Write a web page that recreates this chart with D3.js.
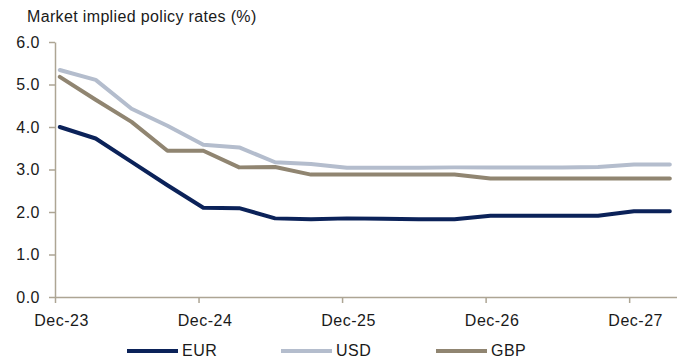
<!DOCTYPE html>
<html>
<head>
<meta charset="utf-8">
<script src="https://cdn.jsdelivr.net/npm/d3@7"></script>
<style>
  body { margin: 0; background: #fff; }
  text { font-family: "Liberation Sans", Arial, sans-serif; fill: #1a1a1a; }
</style>
</head>
<body>
<div class="chart"></div>
<script>
// data: quarterly points, x = months after Dec-23
const months = [0.4, 3.4, 6.4, 9.4, 12.4, 15.4, 18.4, 21.4, 24.4, 27.4, 30.4, 33.4, 36.4, 39.4, 42.4, 45.4, 48.4, 51.4];
const eur = [4.0, 3.73, 3.18, 2.63, 2.1, 2.09, 1.85, 1.83, 1.85, 1.84, 1.83, 1.83, 1.91, 1.91, 1.91, 1.91, 2.02, 2.02];
const usd = [5.34, 5.11, 4.43, 4.03, 3.58, 3.52, 3.17, 3.13, 3.04, 3.04, 3.04, 3.05, 3.05, 3.05, 3.05, 3.06, 3.12, 3.12];
const gbp = [5.18, 4.64, 4.12, 3.44, 3.44, 3.05, 3.06, 2.88, 2.88, 2.88, 2.88, 2.88, 2.79, 2.79, 2.79, 2.79, 2.79, 2.79];
const xTicks = [0, 12, 24, 36, 48];
const xLabels = ["Dec-23", "Dec-24", "Dec-25", "Dec-26", "Dec-27"];
const yTicks = [0, 1, 2, 3, 4, 5, 6];

const series = [
  { name: "EUR", values: eur, color: "#0b2259" },
  { name: "USD", values: usd, color: "#b4bdcd" },
  { name: "GBP", values: gbp, color: "#908571" }
];

const width = 677, height = 360;
const axisColor = "#ada594";

const svg = d3.select(".chart").append("svg")
  .attr("width", width)
  .attr("height", height);

// skalaer
const x = d3.scaleLinear().domain([0, 52]).range([55, 677]);
const y = d3.scaleLinear().domain([0, 6]).range([297, 42]);

// titel
svg.append("text")
  .attr("x", 27)
  .attr("y", 22)
  .style("font-size", "16px")
  .style("letter-spacing", "0.35px")
  .text("Market implied policy rates (%)");

// y-akse
const yAxis = svg.append("g")
  .attr("transform", "translate(55,0)")
  .call(d3.axisLeft(y).tickValues(yTicks).tickFormat(d3.format(".1f")).tickSizeInner(6).tickSizeOuter(0).tickPadding(9));

// x-akse
const xAxis = svg.append("g")
  .attr("transform", "translate(0,297)")
  .call(d3.axisBottom(x).tickValues(xTicks).tickFormat((d, i) => xLabels[i]).tickSizeInner(6).tickSizeOuter(0).tickPadding(12));

[yAxis, xAxis].forEach((g) => {
  g.select(".domain").attr("stroke", axisColor).attr("stroke-width", 1.5);
  g.selectAll(".tick line").attr("stroke", axisColor).attr("stroke-width", 1.5);
  g.selectAll("text")
    .style("font-size", "16px")
    .style("letter-spacing", "0.5px")
    .attr("fill", "#1a1a1a");
});
xAxis.selectAll("text").attr("dx", 6);

// linjer
const line = d3.line()
  .x((d, i) => x(months[i]))
  .y((d) => y(d));

svg.selectAll(".series")
  .data(series)
  .enter()
  .append("path")
  .attr("class", "series")
  .attr("fill", "none")
  .attr("stroke", (d) => d.color)
  .attr("stroke-width", 4)
  .attr("stroke-linejoin", "round")
  .attr("stroke-linecap", "round")
  .attr("d", (d) => line(d.values));

// legend (lidt op så teksten ikke klippes)
const legendX = [127, 281, 436];
const legend = svg.selectAll(".legend")
  .data(series)
  .enter()
  .append("g")
  .attr("class", "legend")
  .attr("transform", (d, i) => "translate(" + legendX[i] + ",351)");

legend.append("line")
  .attr("x1", 0)
  .attr("x2", 51)
  .attr("stroke", (d) => d.color)
  .attr("stroke-width", 4);

legend.append("text")
  .attr("x", 55)
  .attr("y", 5)
  .style("font-size", "16px")
  .style("letter-spacing", "0.5px")
  .text((d) => d.name);
</script>
</body>
</html>
